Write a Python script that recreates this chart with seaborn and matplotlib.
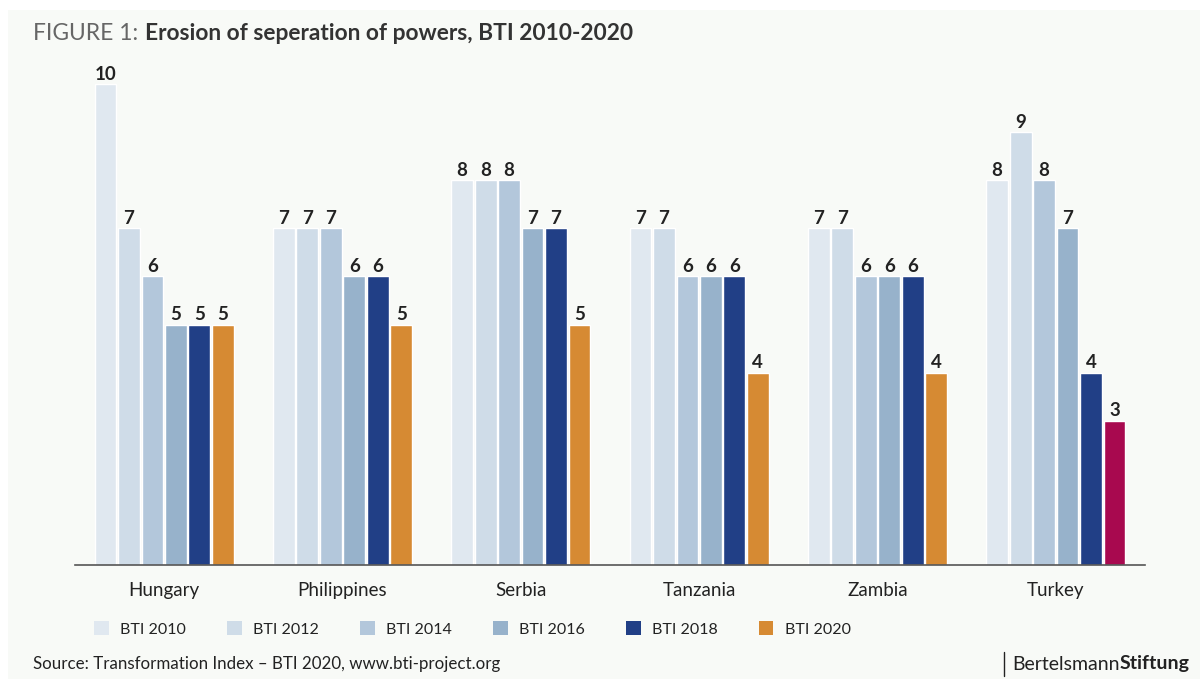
import matplotlib
matplotlib.use("Agg")
import matplotlib.pyplot as plt
from matplotlib.patches import Rectangle, Patch
from matplotlib.lines import Line2D
import seaborn as sns
import pandas as pd

countries = ["Hungary", "Philippines", "Serbia", "Tanzania", "Zambia", "Turkey"]
years = ["BTI 2010", "BTI 2012", "BTI 2014", "BTI 2016", "BTI 2018", "BTI 2020"]
bti_2010 = [10, 7, 8, 7, 7, 8]
bti_2012 = [7, 7, 8, 7, 7, 9]
bti_2014 = [6, 7, 8, 6, 6, 8]
bti_2016 = [5, 6, 7, 6, 6, 7]
bti_2018 = [5, 6, 7, 6, 6, 4]
bti_2020 = [5, 5, 5, 4, 4, 3]
series = [bti_2010, bti_2012, bti_2014, bti_2016, bti_2018, bti_2020]

colors = ["#e0e8f0", "#cfdce8", "#b3c7db", "#97b2cb", "#213f86", "#d68a33"]
highlight = "#a8094f"

rows = []
for y, vals in zip(years, series):
    for c, v in zip(countries, vals):
        rows.append({"country": c, "year": y, "value": v})
df = pd.DataFrame(rows)

sns.set_theme(style="white")
plt.rcParams["font.family"] = ["Lato", "DejaVu Sans"]

W, H = 1200, 679
fig = plt.figure(figsize=(W / 100, H / 100), dpi=100, facecolor="white")
bg = "#f8faf7"
fig.patches.append(Rectangle((8 / W, 0), 1 - 8 / W, (H - 10) / H,
                             transform=fig.transFigure, facecolor=bg,
                             edgecolor="none", zorder=-10))

ax = fig.add_axes([75 / W, 114 / H, 1070 / W, 505 / H])
ax.set_facecolor("none")
sns.barplot(data=df, x="country", y="value", hue="year", order=countries,
            hue_order=years, palette=colors, width=0.79, gap=0.07,
            saturation=1, ax=ax, legend=False)

ax.containers[5][5].set_facecolor(highlight)

for cont in ax.containers:
    ax.bar_label(cont, fmt="%g", padding=1, fontsize=13.5, fontweight="bold",
                 color="#222222")

ax.set_xlim(-0.5, 5.5)
ax.set_ylim(0, 10.5)
ax.set_xlabel("")
ax.set_ylabel("")
ax.set_yticks([])
for s in ["left", "right", "top"]:
    ax.spines[s].set_visible(False)
ax.spines["bottom"].set_color("#555555")
ax.spines["bottom"].set_linewidth(1.2)
ax.tick_params(axis="x", which="major", length=0, pad=12, labelsize=13.5,
               labelcolor="#222222")
ax.set_xticks([i + 0.5 for i in range(6)], minor=True)
ax.tick_params(axis="x", which="minor", direction="in", length=9, width=2,
               color="#222222")

handles = [Patch(facecolor=c, edgecolor="none") for c in colors]
fig.legend(handles, years, loc="center left", bbox_to_anchor=(80 / W, 1 - 629 / H),
           ncol=6, frameon=False, fontsize=11.5, handlelength=0.9, handleheight=0.9,
           handletextpad=0.7, columnspacing=2.6, labelcolor="#222222")

fig.canvas.draw()
r = fig.canvas.get_renderer()

t1 = fig.text(33 / W, 1 - 33 / H, "FIGURE 1:", fontsize=16.4, fontweight="normal",
              color="#666666", va="center", ha="left")
ext = t1.get_window_extent(r)
fig.text((ext.x1 + 7) / W, 1 - 33 / H, "Erosion of seperation of powers, BTI 2010-2020",
         fontsize=16.4, fontweight="bold", color="#333333", va="center", ha="left")

fig.text(33 / W, 1 - 664 / H, "Source: Transformation Index – BTI 2020, www.bti-project.org",
         fontsize=12.2, color="#222222", va="center", ha="left")

t3 = fig.text(1190 / W, 1 - 664 / H, "Stiftung", fontsize=14, fontweight="bold",
              color="#222222", va="center", ha="right")
e3 = t3.get_window_extent(r)
t4 = fig.text(e3.x0 / W, 1 - 664 / H, "Bertelsmann", fontsize=14,
              color="#222222", va="center", ha="right")
e4 = t4.get_window_extent(r)
xb = (e4.x0 - 9) / W
fig.add_artist(Line2D([xb, xb], [1 - 652 / H, 1 - 676 / H], transform=fig.transFigure,
                      color="#222222", linewidth=1))

fig.savefig("out.png", dpi=100, facecolor="white")
